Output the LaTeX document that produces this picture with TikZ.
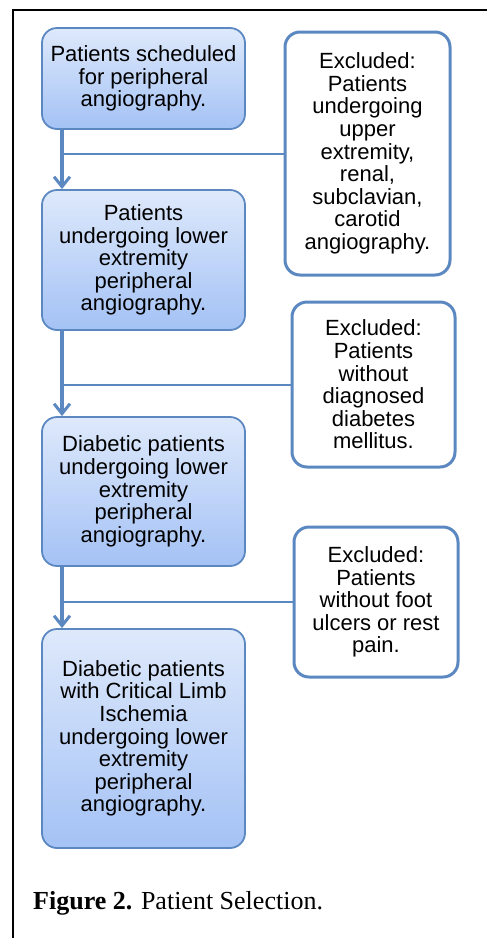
\documentclass[tikz,border=0pt]{standalone}
\usepackage{fontspec}
\setmainfont{Liberation Serif}
\newfontfamily\boxfont{Liberation Sans}
\usepackage{xcolor}
\usepackage{tikz}
\usetikzlibrary{arrows.meta,calc}
\definecolor{flowblue}{RGB}{92, 136, 194}
\definecolor{shadetop}{RGB}{222, 233, 251}
\definecolor{shadebottom}{RGB}{164, 194, 245}

\begin{document}
\begin{tikzpicture}[x=1pt, y=-1pt,
  stagebox/.style={rectangle, draw=flowblue, top color=shadetop, bottom color=shadebottom, rounded corners=15pt, line width=1.8pt, minimum width=203pt, align=center, inner sep=0pt, font=\boxfont\fontsize{22}{22.6}\selectfont},
  exclbox/.style={rectangle, draw=flowblue, fill=white, rounded corners=15pt, line width=3pt, align=center, inner sep=0pt, font=\boxfont\fontsize{22}{22.6}\selectfont},
  flowarrow/.style={-{Straight Barb[length=10pt,width=16pt,line width=3pt]}, line width=3.5pt, color=flowblue},
  exclline/.style={line width=2pt, color=flowblue}
]
\useasboundingbox (0,0) rectangle (487,938);

% Page Frame (Cut at Right and Bottom)
\draw[line width=1.5pt, black] (13,940) -- (13,10) -- (490,10);

% Selection Stages (Left Column)
\node[stagebox, minimum height=101pt] (sched) at (143.5, 78.5) {Patients scheduled\\for peripheral\\angiography.};
\node[stagebox, minimum height=140pt] (lower) at (143.5, 260) {Patients\\undergoing lower\\extremity\\peripheral\\angiography.};
\node[stagebox, minimum height=149pt] (diab) at (143.5, 491.5) {Diabetic patients\\undergoing lower\\extremity\\peripheral\\angiography.};
\node[stagebox, minimum height=219pt] (cli) at (143.5, 738.5) {Diabetic patients\\with Critical Limb\\Ischemia\\undergoing lower\\extremity\\peripheral\\angiography.};

% Exclusions (Right Column)
\node[exclbox, minimum width=165pt, minimum height=243pt] (exupper) at (367.5, 153.5) {Excluded:\\Patients\\undergoing\\upper\\extremity,\\renal,\\subclavian,\\carotid\\angiography.};
\node[exclbox, minimum width=163pt, minimum height=165pt] (exdiab) at (373.5, 384.5) {Excluded:\\Patients\\without\\diagnosed\\diabetes\\mellitus.};
\node[exclbox, minimum width=164pt, minimum height=150pt] (exulcer) at (376, 602) {Excluded:\\Patients\\without foot\\ulcers or rest\\pain.};

% Spine of the Flow
\coordinate (spine) at (62, 0);

% Exclusion Branches
\draw[exclline] (exupper.west) -- (exupper.west -| spine);
\draw[exclline] (exdiab.west) -- (exdiab.west -| spine);
\draw[exclline] (exulcer.west) -- (exulcer.west -| spine);

% Stage to Stage Arrows
\draw[flowarrow] (sched.south -| spine) -- (lower.north -| spine);
\draw[flowarrow] (lower.south -| spine) -- (diab.north -| spine);
\draw[flowarrow] (diab.south -| spine) -- (cli.north -| spine);

% Caption
\node[anchor=base west, inner sep=0pt, font=\fontsize{26}{30}\selectfont] (caption) at (33, 909) {\textbf{Figure 2.} Patient Selection.};

\end{tikzpicture}
\end{document}
